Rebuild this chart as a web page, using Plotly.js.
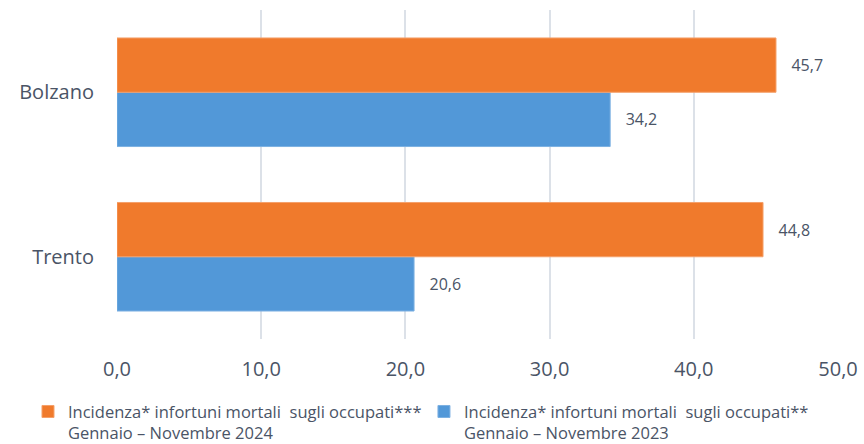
<!DOCTYPE html>
<html>
<head>
<meta charset="utf-8">
<script src="https://cdn.plot.ly/plotly-3.0.1.min.js"></script>
<style>html,body{margin:0;padding:0;background:#fff;}#chart{width:864px;height:444px;}</style>
</head>
<body>
<div id="chart"></div>
<script>
const categories = ['Trento', 'Bolzano'];
const values2023 = [20.6, 34.2];
const values2024 = [44.8, 45.7];
const name2023 = 'Incidenza* infortuni mortali  sugli occupati**<br>Gennaio – Novembre 2023';
const name2024 = 'Incidenza* infortuni mortali  sugli occupati***<br>Gennaio – Novembre 2024';
const xTicks = [0, 10, 20, 30, 40, 50];

const pad = '\u00a0\u00a0\u00a0';
const fmt = v => pad + v.toFixed(1).replace('.', ',');

const labelColor = '#4A5466';

const traces = [
  {
    type: 'bar', orientation: 'h', name: name2023,
    y: categories, x: values2023,
    text: values2023.map(fmt), textposition: 'outside',
    textfont: {family: 'Open Sans', size: 16, color: labelColor},
    marker: {color: '#5298D8', line: {color: '#7DB1E2', width: 1}},
    legend: 'legend2', hoverinfo: 'x+y', cliponaxis: false
  },
  {
    type: 'bar', orientation: 'h', name: name2024,
    y: categories, x: values2024,
    text: values2024.map(fmt), textposition: 'outside',
    textfont: {family: 'Open Sans', size: 16, color: labelColor},
    marker: {color: '#F07A2C', line: {color: '#F5A06A', width: 1}},
    legend: 'legend', hoverinfo: 'x+y', cliponaxis: false
  }
];

const legendFont = {family: 'Open Sans, sans-serif', size: 16.5, color: labelColor};

const layout = {
  width: 864, height: 444,
  margin: {l: 117, r: 26, t: 10, b: 105, pad: 0, autoexpand: false},
  paper_bgcolor: '#ffffff', plot_bgcolor: '#ffffff',
  separators: ',.',
  barmode: 'group', bargap: 0.34, bargroupgap: 0,
  showlegend: true,
  legend: {
    orientation: 'v', xref: 'container', yref: 'container',
    x: 0.0324, y: 0.112, xanchor: 'left', yanchor: 'top',
    valign: 'top', itemwidth: 30,
    font: legendFont, bgcolor: 'rgba(0,0,0,0)'
  },
  legend2: {
    orientation: 'v', xref: 'container', yref: 'container',
    x: 0.4907, y: 0.112, xanchor: 'left', yanchor: 'top',
    valign: 'top', itemwidth: 30,
    font: legendFont, bgcolor: 'rgba(0,0,0,0)'
  },
  xaxis: {
    range: [0, 50], tickvals: xTicks, tickformat: '.1f',
    showgrid: true, gridcolor: '#DCE1E8', gridwidth: 2,
    zeroline: false, showline: false, ticks: '',
    ticklabelstandoff: 16,
    tickfont: {family: 'Open Sans', size: 20, color: labelColor},
    fixedrange: true
  },
  yaxis: {
    type: 'category', categoryorder: 'array', categoryarray: categories,
    range: [-0.5, 1.5],
    showgrid: false, zeroline: false, showline: false, ticks: '',
    ticklabelstandoff: 22,
    tickfont: {family: 'Open Sans', size: 20, color: labelColor},
    fixedrange: true
  }
};

Plotly.newPlot('chart', traces, layout, {displayModeBar: false, staticPlot: true});
</script>
</body>
</html>
